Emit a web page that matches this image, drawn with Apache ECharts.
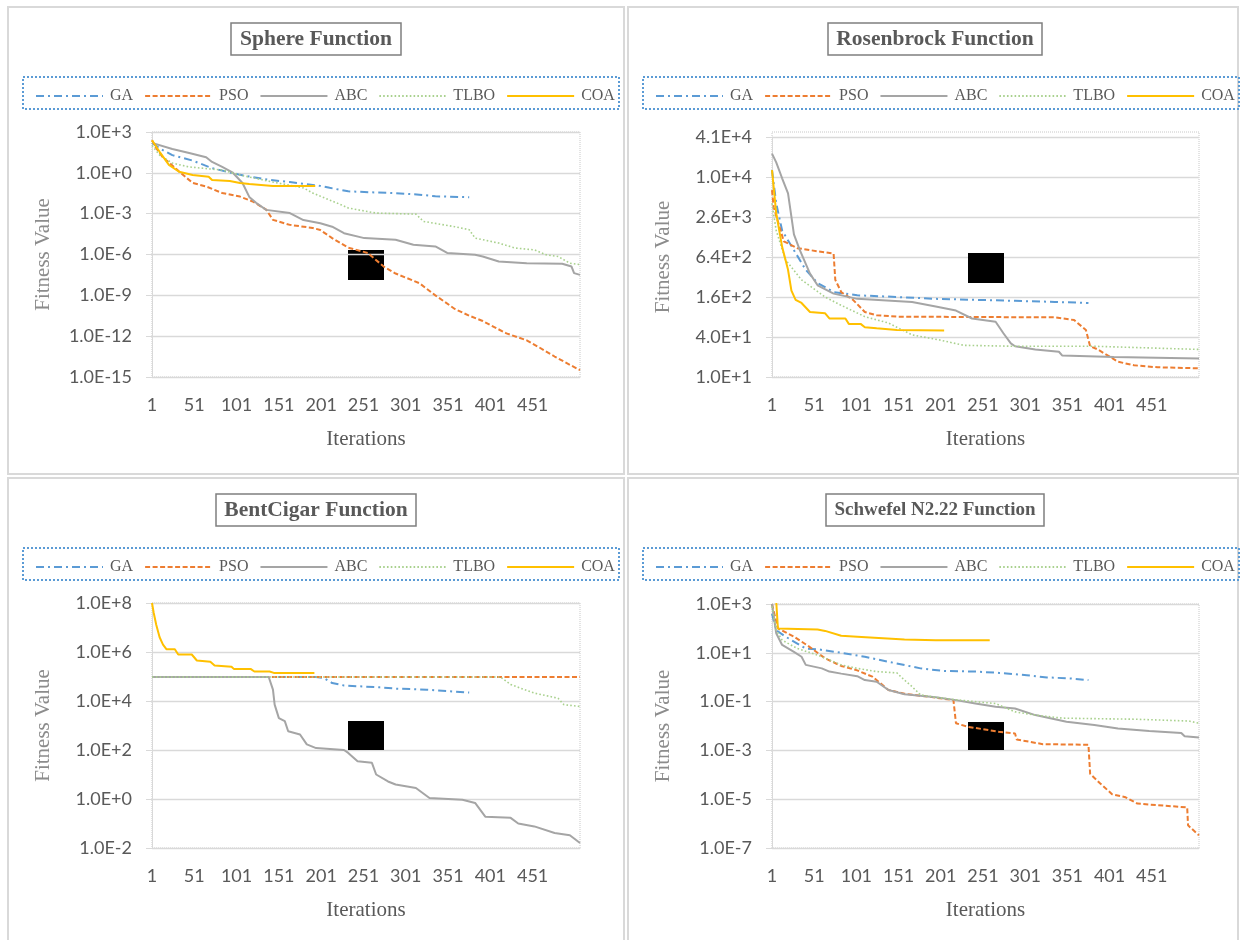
<!DOCTYPE html>
<html>
<head>
<meta charset="utf-8">
<script src="https://cdn.jsdelivr.net/npm/echarts@6/dist/echarts.min.js"></script>
<style>
html,body{margin:0;padding:0;background:#fff;}
#chart{width:1241px;height:940px;}
</style>
</head>
<body>
<div id="chart"></div>
<script>
// ---------- data (iteration, fitness value) ----------
const iterations = Array.from({length: 507}, (_, i) => String(i + 1));
const seriesNames = ['GA', 'PSO', 'ABC', 'TLBO', 'COA'];
const panelTitles = ['Sphere Function', 'Rosenbrock Function', 'BentCigar Function', 'Schwefel N2.22 Function'];

const yTicksSphere = [1e-15, 1e-12, 1e-9, 1e-6, 1e-3, 1e0, 1e3];
const yTicksRosenbrock = [10, 40, 160, 640, 2560, 10240, 40960];
const yTicksBentCigar = [1e-2, 1e0, 1e2, 1e4, 1e6, 1e8];
const yTicksSchwefel = [1e-7, 1e-5, 1e-3, 1e-1, 1e1, 1e3];

const sphereGA = [[1,1.6e2],[10,6.3e1],[25,2.0e1],[49,7.9],[72,2.2],[105,7.1e-1],[140,3.0e-1],[164,2.1e-1],[200,1.1e-1],[211,7.9e-2],[233,4.4e-2],[266,3.6e-2],[289,3.2e-2],[317,2.5e-2],[336,1.9e-2],[350,1.8e-2],[376,1.6e-2]];
const spherePSO = [[1,2.5e2],[5,7.9e1],[13,1.6e1],[33,1.26],[49,1.8e-1],[65,1.0e-1],[84,3.3e-2],[105,1.8e-2],[120,7.9e-3],[136,2.0e-3],[144,3.5e-4],[164,1.5e-4],[191,8.9e-5],[200,6.3e-5],[214,1.6e-5],[233,3.2e-6],[256,1.3e-6],[275,1.3e-7],[289,4.0e-8],[317,7.9e-9],[336,1.0e-9],[359,1.0e-10],[376,3.2e-11],[392,1.3e-11],[420,1.6e-12],[444,5.0e-13],[458,1.6e-13],[477,3.2e-14],[495,7.9e-15],[507,3.2e-15]];
const sphereABC = [[1,1.6e2],[25,5.6e1],[45,2.9e1],[65,1.4e1],[72,6.3],[84,2.7],[96,1.1],[108,1.8e-1],[116,1.7e-2],[124,6.3e-3],[136,1.9e-3],[164,1.1e-3],[180,3.4e-4],[200,2.0e-4],[214,1.1e-4],[228,3.7e-5],[252,1.6e-5],[289,1.2e-5],[310,5.2e-6],[336,3.9e-6],[350,1.3e-6],[383,9.5e-7],[392,7.2e-7],[411,3.1e-7],[444,2.3e-7],[486,2.1e-7],[497,1.3e-7],[500,4.3e-8],[507,3.2e-8]];
const sphereTLBO = [[1,1.0e2],[10,2.0e1],[25,5.2],[45,2.7],[84,1.6],[105,6.9e-1],[144,2.1e-1],[180,7.8e-2],[191,3.3e-2],[211,1.0e-2],[225,4.4e-3],[233,2.6e-3],[266,1.1e-3],[313,9.3e-4],[322,2.7e-4],[359,1.1e-4],[376,6.6e-5],[383,1.6e-5],[411,6.9e-6],[430,3.0e-6],[453,2.2e-6],[467,9.5e-7],[481,7.2e-7],[495,2.3e-7],[507,1.8e-7]];
const sphereCOA = [[1,2.5e2],[10,3.5e1],[21,3.8],[33,1.2],[49,6.9e-1],[68,5.2e-1],[72,3.0e-1],[93,2.5e-1],[105,1.8e-1],[116,1.5e-1],[144,1.1e-1],[194,1.1e-1]];

const rosenGA = [[1,1.3e4],[6,4.1e3],[13,1.6e3],[27,8.1e2],[41,4.1e2],[55,2.6e2],[74,1.9e2],[102,1.7e2],[149,1.6e2],[195,1.5e2],[242,1.45e2],[289,1.4e2],[336,1.35e2],[376,1.3e2]];
const rosenPSO = [[1,6.5e3],[3,3.6e3],[15,1.1e3],[31,8.7e2],[55,7.8e2],[74,7.2e2],[76,2.9e2],[83,1.9e2],[97,1.45e2],[111,9.5e1],[125,8.5e1],[149,8.1e1],[336,7.9e1],[359,7.2e1],[373,5.1e1],[378,2.9e1],[387,2.6e1],[411,1.7e1],[430,1.5e1],[458,1.4e1],[507,1.35e1]];
const rosenABC = [[1,2.3e4],[6,1.7e4],[13,9.8e3],[20,5.8e3],[27,1.4e3],[34,8.1e2],[46,3.6e2],[55,2.4e2],[74,1.8e2],[102,1.5e2],[167,1.35e2],[195,1.15e2],[219,1.0e2],[238,7.6e1],[266,6.8e1],[275,4.6e1],[284,3.2e1],[289,2.9e1],[313,2.6e1],[341,2.4e1],[345,2.1e1],[406,2.0e1],[507,1.9e1]];
const rosenTLBO = [[1,4.1e3],[6,1.6e3],[17,5.8e2],[36,2.9e2],[64,1.6e2],[83,1.2e2],[111,8.1e1],[139,6.5e1],[167,4.3e1],[200,3.6e1],[228,3.0e1],[289,2.9e1],[383,2.9e1],[507,2.6e1]];
const rosenCOA = [[1,1.3e4],[6,2.9e3],[13,9.1e2],[20,4.1e2],[24,2.0e2],[29,1.45e2],[36,1.3e2],[46,9.5e1],[64,9.1e1],[69,7.6e1],[88,7.6e1],[92,6.3e1],[106,6.3e1],[111,5.6e1],[125,5.4e1],[149,5.1e1],[205,5.0e1]];

const bentGA = [[1,9.5e4],[195,9.5e4],[204,8.7e4],[214,5.4e4],[228,4.3e4],[270,3.6e4],[289,3.2e4],[326,2.9e4],[376,2.2e4]];
const bentPSO = [[1,9.5e4],[200,9.5e4],[400,9.5e4],[507,9.5e4]];
const bentABC = [[1,9.5e4],[139,9.5e4],[144,2.9e4],[146,7.1e3],[151,2.0e3],[158,1.5e3],[162,5.8e2],[176,4.3e2],[184,1.7e2],[195,1.2e2],[228,1.0e2],[233,7.6e1],[244,3.5e1],[261,3.0e1],[266,1.0e1],[280,5.2],[289,3.9],[313,2.8],[329,1.1],[368,9.3e-1],[383,6.9e-1],[395,1.9e-1],[425,1.7e-1],[434,1.0e-1],[453,7.6e-2],[477,4.1e-2],[495,3.3e-2],[507,1.6e-2]];
const bentTLBO = [[1,9.5e4],[413,9.5e4],[425,4.7e4],[453,2.1e4],[481,1.3e4],[488,7.1e3],[507,6.0e3]];
const bentCOA = [[1,1.0e8],[3,4.0e7],[6,1.3e7],[10,4.0e6],[14,2.0e6],[18,1.3e6],[28,1.3e6],[32,7.9e5],[48,7.9e5],[54,4.5e5],[70,4.0e5],[75,2.8e5],[95,2.5e5],[98,2.0e5],[118,2.0e5],[122,1.6e5],[140,1.6e5],[145,1.4e5],[193,1.4e5]];

const schwGA = [[1,4.0e2],[6,8.5e1],[17,4.6e1],[41,1.5e1],[55,1.4e1],[83,1.0e1],[111,6.9],[139,4.3],[177,2.3],[205,1.8],[242,1.7],[270,1.5],[303,1.2],[327,9.8e-1],[355,8.9e-1],[376,7.6e-1]];
const schwPSO = [[1,1.0e3],[8,1.0e2],[27,4.6e1],[45,1.8e1],[64,5.9],[83,2.9],[102,1.9],[120,1.05],[139,3.0e-1],[158,2.1e-1],[186,1.6e-1],[216,1.15e-1],[219,1.3e-2],[233,9.3e-3],[270,5.8e-3],[289,4.9e-3],[291,2.8e-3],[322,1.8e-3],[376,1.7e-3],[378,1.1e-4],[390,4.4e-5],[404,1.6e-5],[420,1.2e-5],[434,6.6e-6],[493,4.6e-6],[494,8.5e-7],[507,3.3e-7]];
const schwABC = [[1,1.0e3],[6,6.3e1],[13,2.1e1],[27,1.1e1],[36,6.9],[41,3.2],[60,2.3],[69,1.7],[83,1.4],[102,1.1],[111,7.6e-1],[125,6.5e-1],[139,3.0e-1],[158,2.0e-1],[195,1.5e-1],[219,1.15e-1],[242,8.3e-2],[266,6.2e-2],[289,5.2e-2],[313,2.8e-2],[350,1.5e-2],[383,1.1e-2],[411,7.9e-3],[448,6.3e-3],[486,5.2e-3],[490,3.8e-3],[507,3.4e-3]];
const schwTLBO = [[1,7.9e2],[6,8.5e1],[13,3.3e1],[31,1.5e1],[55,8.1],[83,3.2],[102,2.3],[125,1.7],[149,1.5],[158,7.6e-1],[167,4.1e-1],[177,1.9e-1],[195,1.5e-1],[223,1.15e-1],[266,8.3e-2],[289,3.8e-2],[313,2.8e-2],[345,2.1e-2],[383,2.0e-2],[430,1.9e-2],[495,1.6e-2],[507,1.3e-2]];
const schwCOA = [[1,3.2e3],[6,1.3e3],[8,1.0e2],[55,9.1e1],[64,7.9e1],[83,5.0e1],[102,4.6e1],[158,3.5e1],[195,3.3e1],[259,3.3e1]];

// ---------- styles ----------
const styles = {
  GA:   {color: '#5b9bd5', width: 2,   type: [8, 4, 2, 4]},
  PSO:  {color: '#ed7d31', width: 2,   type: [5, 2.5]},
  ABC:  {color: '#a5a5a5', width: 2,   type: 'solid'},
  TLBO: {color: '#a9d18e', width: 1.6, type: [1.6, 2.2]},
  COA:  {color: '#ffc000', width: 2,   type: 'solid'}
};

const panelData = [
  [sphereGA, spherePSO, sphereABC, sphereTLBO, sphereCOA],
  [rosenGA, rosenPSO, rosenABC, rosenTLBO, rosenCOA],
  [bentGA, bentPSO, bentABC, bentTLBO, bentCOA],
  [schwGA, schwPSO, schwABC, schwTLBO, schwCOA]
];
const panelTicks = [yTicksSphere, yTicksRosenbrock, yTicksBentCigar, yTicksSchwefel];
const panelLogBase = [10, 4, 10, 10];

// layout
const gridRects = [
  {left: 152, top: 132, width: 428, height: 245},
  {left: 772, top: 137, width: 427, height: 240},
  {left: 152, top: 603, width: 428, height: 245},
  {left: 772, top: 604, width: 427, height: 244}
];
const plotBorders = [
  {x: 152, y: 132, width: 428, height: 245},
  {x: 772, y: 132, width: 427, height: 245},
  {x: 152, y: 603, width: 428, height: 245},
  {x: 772, y: 604, width: 427, height: 244}
];
const panelOrigins = [[0, 0], [620, 0], [0, 471], [620, 471]];
const titleCenters = [307, 926, 307, 926];
const titleSizes = [21.5, 21.5, 21.5, 19];
const boxRects = [
  {x: 348, y: 250, width: 36, height: 30, z: -10},
  {x: 968, y: 253, width: 36, height: 30, z: 1},
  {x: 348, y: 721, width: 36, height: 29, z: 1},
  {x: 968, y: 722, width: 36, height: 28, z: 1}
];

const labelFont = 'Lato, "Open Sans", sans-serif';
const serif = '"Liberation Serif", "DejaVu Serif", serif';

function fmtExp(v) {
  return Number(v).toExponential(1).toUpperCase();
}

const option = {
  animation: false,
  backgroundColor: '#ffffff',
  title: [],
  legend: [],
  grid: [],
  xAxis: [],
  yAxis: [],
  series: [],
  graphic: []
};

// panel frames
const frames = [
  {x: 8, y: 7, width: 616, height: 467},
  {x: 628, y: 7, width: 610, height: 467},
  {x: 8, y: 478, width: 616, height: 470},
  {x: 628, y: 478, width: 610, height: 470}
];
frames.forEach(f => option.graphic.push({type: 'rect', z: -5, shape: f, style: {fill: 'none', stroke: '#d9d9d9', lineWidth: 2}}));

for (let p = 0; p < 4; p++) {
  const [ox, oy] = panelOrigins[p];
  option.title.push({
    text: panelTitles[p],
    left: titleCenters[p],
    top: 23 + oy,
    textAlign: 'center',
    padding: [5, 9, 5, 9],
    borderColor: '#7f7f7f',
    borderWidth: 1.5,
    textStyle: {fontFamily: serif, fontWeight: 'bold', fontSize: titleSizes[p], color: '#595959', lineHeight: 22}
  });
  option.legend.push({
    data: seriesNames,
    left: 30 + ox,
    top: 83 + oy,
    width: 620,
    itemWidth: 67,
    itemHeight: 14,
    itemGap: 11,
    itemStyle: {opacity: 0},
    textStyle: {fontFamily: serif, fontSize: 16, color: '#595959', padding: [0, 0, 0, 2]},
    selectedMode: false
  });
  option.graphic.push({type: 'rect', z: -5, shape: {x: 23 + ox, y: 77 + oy, width: 596, height: 32},
    style: {fill: 'none', stroke: '#5b9bd5', lineWidth: 2, lineDash: [2, 2]}});
  option.graphic.push({type: 'rect', z: -5, shape: plotBorders[p],
    style: {fill: 'none', stroke: '#c8c8c8', lineWidth: 1, lineDash: [1, 1]}});
  // solid black boxes present in the reference picture
  const b = boxRects[p];
  option.graphic.push({type: 'rect', z: b.z, shape: {x: b.x, y: b.y, width: b.width, height: b.height},
    style: {fill: '#000000'}});

  option.grid.push(Object.assign({containLabel: false}, gridRects[p]));
  option.xAxis.push({
    type: 'category',
    gridIndex: p,
    data: iterations,
    boundaryGap: false,
    name: 'Iterations',
    nameLocation: 'middle',
    nameGap: 52,
    nameTextStyle: {fontFamily: serif, fontSize: 21, color: '#595959'},
    axisLine: {lineStyle: {color: '#d9d9d9', width: 1}},
    axisTick: {show: false},
    axisLabel: {
      interval: (idx) => idx % 50 === 0 && idx <= 450,
      margin: 19,
      fontFamily: labelFont, fontSize: 18, color: '#595959'
    },
    splitLine: {show: false}
  });
  const ticks = panelTicks[p];
  option.yAxis.push({
    type: 'log',
    logBase: panelLogBase[p],
    gridIndex: p,
    min: ticks[0],
    max: ticks[ticks.length - 1],
    name: 'Fitness Value',
    nameLocation: 'middle',
    nameGap: 98,
    nameTextStyle: {fontFamily: serif, fontSize: 21, color: '#8c8c8c'},
    axisLine: {show: true, lineStyle: {color: '#d9d9d9', width: 1}},
    axisTick: {show: true, length: 6, lineStyle: {color: '#d9d9d9'}, customValues: ticks},
    axisLabel: {margin: 20, fontFamily: labelFont, fontSize: 18, color: '#595959', formatter: fmtExp, customValues: ticks},
    splitLine: {show: true, lineStyle: {color: '#d9d9d9', width: 1.3}}
  });
  seriesNames.forEach((name, s) => {
    const st = styles[name];
    option.series.push({
      type: 'line',
      name: name,
      xAxisIndex: p,
      yAxisIndex: p,
      data: panelData[p][s].map(([it, v]) => [String(it), v]),
      symbol: 'circle',
      showSymbol: false,
      clip: true,
      z: 2 + (s === 4 ? 1 : 0),
      itemStyle: {color: st.color},
      lineStyle: {color: st.color, width: st.width, type: st.type, cap: 'butt'}
    });
  });
}

const chart = echarts.init(document.getElementById('chart'), null, {renderer: 'canvas'});
chart.setOption(option);
</script>
</body>
</html>
